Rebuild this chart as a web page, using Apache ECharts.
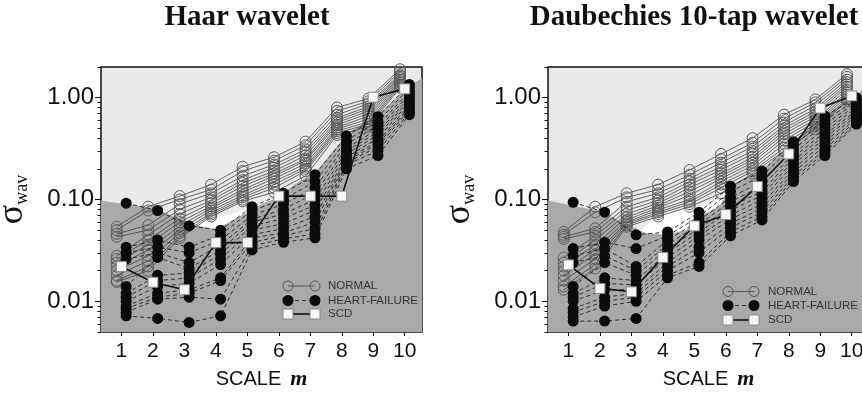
<!DOCTYPE html>
<html>
<head>
<meta charset="utf-8">
<script src="https://cdn.jsdelivr.net/npm/echarts@6/dist/echarts.min.js"></script>
<style>
html,body{margin:0;padding:0;background:#fff;}
#c{width:862px;height:395px;}
</style>
</head>
<body>
<div id="c"></div>
<script>
// ---------- data ----------
const scales = [1, 2, 3, 4, 5, 6, 7, 8, 9, 10];
const yMajorTicks = [0.01, 0.1, 1];
const yMinorTicks = [0.005, 0.006, 0.007, 0.008, 0.009, 0.02, 0.03, 0.04, 0.05, 0.06, 0.07, 0.08, 0.09,
  0.2, 0.3, 0.4, 0.5, 0.6, 0.7, 0.8, 0.9, 2];
const panelTitles = ['Haar wavelet', 'Daubechies 10-tap wavelet'];
const legendNames = ['NORMAL', 'HEART-FAILURE', 'SCD'];

// values per scale m (each inner list: one value per subject, ranked)
const haarNormal = [
  [0.054, 0.050, 0.046, 0.043, 0.028, 0.026, 0.024, 0.022, 0.020, 0.018, 0.016, 0.0155],
  [0.085, 0.078, 0.056, 0.050, 0.045, 0.040, 0.036, 0.032, 0.028, 0.025, 0.022, 0.020],
  [0.108, 0.100, 0.090, 0.080, 0.072, 0.065, 0.060, 0.055, 0.051, 0.047, 0.044, 0.042],
  [0.140, 0.125, 0.115, 0.105, 0.098, 0.092, 0.086, 0.082, 0.078, 0.074, 0.071, 0.068],
  [0.210, 0.190, 0.170, 0.155, 0.145, 0.135, 0.125, 0.118, 0.110, 0.105, 0.100, 0.096],
  [0.260, 0.240, 0.220, 0.205, 0.190, 0.180, 0.170, 0.160, 0.150, 0.140, 0.130, 0.118],
  [0.370, 0.340, 0.310, 0.290, 0.270, 0.250, 0.240, 0.225, 0.210, 0.200, 0.190, 0.170],
  [0.800, 0.740, 0.680, 0.630, 0.600, 0.570, 0.540, 0.510, 0.490, 0.470, 0.450, 0.430],
  [0.980, 0.920, 0.870, 0.820, 0.780, 0.740, 0.700, 0.660, 0.620, 0.580, 0.550, 0.520],
  [1.90, 1.80, 1.70, 1.65, 1.60, 1.55, 1.50, 1.45, 1.40, 1.35, 1.30, 1.25]
];
const haarHF = [
  [0.092, 0.034, 0.030, 0.026, 0.014, 0.012, 0.011, 0.010, 0.0090, 0.0085, 0.0078, 0.0072],
  [0.078, 0.040, 0.034, 0.030, 0.027, 0.018, 0.016, 0.014, 0.012, 0.011, 0.0105, 0.0068],
  [0.055, 0.034, 0.030, 0.024, 0.021, 0.019, 0.017, 0.015, 0.013, 0.012, 0.011, 0.0062],
  [0.050, 0.045, 0.040, 0.036, 0.032, 0.029, 0.026, 0.023, 0.017, 0.016, 0.0105, 0.0072],
  [0.085, 0.078, 0.070, 0.064, 0.060, 0.055, 0.050, 0.045, 0.042, 0.038, 0.035, 0.032],
  [0.115, 0.100, 0.090, 0.080, 0.072, 0.065, 0.058, 0.052, 0.047, 0.044, 0.041, 0.038],
  [0.175, 0.150, 0.130, 0.115, 0.100, 0.088, 0.078, 0.068, 0.060, 0.052, 0.046, 0.042],
  [0.420, 0.380, 0.350, 0.320, 0.300, 0.280, 0.260, 0.250, 0.240, 0.230, 0.220, 0.200],
  [0.650, 0.580, 0.530, 0.490, 0.460, 0.430, 0.400, 0.370, 0.350, 0.330, 0.300, 0.270],
  [1.35, 1.25, 1.15, 1.08, 1.00, 0.95, 0.90, 0.85, 0.80, 0.76, 0.72, 0.68]
];
const haarSCD = [0.022, 0.0154, 0.013, 0.0377, 0.0377, 0.108, 0.108, 0.108, 1.01, 1.22];

const daubNormal = [
  [0.048, 0.045, 0.043, 0.041, 0.027, 0.024, 0.022, 0.020, 0.018, 0.016, 0.014, 0.013],
  [0.085, 0.075, 0.052, 0.048, 0.044, 0.040, 0.036, 0.032, 0.029, 0.026, 0.023, 0.021],
  [0.115, 0.105, 0.095, 0.085, 0.078, 0.072, 0.067, 0.063, 0.060, 0.058, 0.056, 0.054],
  [0.140, 0.125, 0.115, 0.105, 0.098, 0.092, 0.087, 0.083, 0.079, 0.075, 0.072, 0.068],
  [0.195, 0.175, 0.160, 0.150, 0.140, 0.130, 0.120, 0.110, 0.100, 0.095, 0.090, 0.085],
  [0.280, 0.250, 0.230, 0.210, 0.195, 0.180, 0.170, 0.160, 0.150, 0.140, 0.130, 0.115],
  [0.400, 0.360, 0.330, 0.300, 0.280, 0.260, 0.245, 0.230, 0.215, 0.200, 0.190, 0.180],
  [0.680, 0.620, 0.570, 0.530, 0.500, 0.470, 0.440, 0.410, 0.380, 0.350, 0.320, 0.300],
  [0.960, 0.900, 0.840, 0.780, 0.730, 0.690, 0.650, 0.610, 0.580, 0.550, 0.520, 0.490],
  [1.70, 1.60, 1.50, 1.42, 1.35, 1.28, 1.20, 1.13, 1.07, 1.02, 0.97, 0.93]
];
const daubHF = [
  [0.094, 0.033, 0.028, 0.024, 0.014, 0.012, 0.011, 0.010, 0.0085, 0.0078, 0.0070, 0.0064],
  [0.075, 0.038, 0.033, 0.028, 0.024, 0.017, 0.015, 0.013, 0.011, 0.010, 0.0090, 0.0064],
  [0.045, 0.033, 0.022, 0.020, 0.018, 0.016, 0.0145, 0.013, 0.012, 0.011, 0.010, 0.0068],
  [0.048, 0.044, 0.040, 0.036, 0.033, 0.030, 0.027, 0.024, 0.022, 0.020, 0.018, 0.017],
  [0.075, 0.068, 0.062, 0.057, 0.052, 0.048, 0.044, 0.040, 0.034, 0.030, 0.024, 0.022],
  [0.135, 0.120, 0.105, 0.095, 0.085, 0.078, 0.070, 0.064, 0.058, 0.053, 0.048, 0.044],
  [0.190, 0.170, 0.150, 0.135, 0.120, 0.110, 0.100, 0.090, 0.082, 0.075, 0.068, 0.063],
  [0.370, 0.340, 0.310, 0.280, 0.260, 0.240, 0.220, 0.200, 0.185, 0.170, 0.160, 0.150],
  [0.660, 0.600, 0.550, 0.500, 0.460, 0.430, 0.400, 0.370, 0.340, 0.310, 0.290, 0.270],
  [1.00, 0.95, 0.90, 0.85, 0.80, 0.75, 0.71, 0.67, 0.63, 0.60, 0.57, 0.55]
];
const daubSCD = [0.0228, 0.0134, 0.0124, 0.027, 0.055, 0.071, 0.134, 0.28, 0.79, 1.04];

// shaded background regions: [m, sigma] outline points
const haarHFRegion = [[0.35, 0.097], [2.0, 0.083], [3.35, 0.056], [4.0, 0.051], [4.9, 0.072], [5.5, 0.092],
  [6.0, 0.105], [6.5, 0.14], [7.2, 0.19], [8.2, 0.45], [9.2, 0.7], [10.2, 1.35], [10.55, 1.55]];
const haarGap = [[3.0, 0.05], [3.35, 0.059], [4.0, 0.066], [4.5, 0.072], [5.0, 0.082], [5.5, 0.095], [6.0, 0.1], [6.2, 0.09]];
const daubHFRegion = [[0.35, 0.098], [1.95, 0.077], [3.45, 0.047], [4.1, 0.045], [4.73, 0.05], [5.15, 0.068],
  [5.8, 0.086], [6.2, 0.14], [7.2, 0.2], [8.2, 0.38], [9.2, 0.68], [10.2, 1.1], [10.55, 1.3]];
const daubGap = [[3.2, 0.045], [3.45, 0.055], [4.1, 0.074], [5.15, 0.085], [5.8, 0.1], [6.0, 0.1], [6.2, 0.09]];

// ---------- chart ----------
const chart = echarts.init(document.getElementById('c'), null, {renderer: 'canvas'});
const SANS = 'Liberation Sans, Arial, Helvetica, sans-serif';
const SERIF = 'Liberation Serif, Times New Roman, serif';

const grids = [
  {left: 101, top: 67, width: 321, height: 265},
  {left: 548, top: 67, width: 321, height: 265}
];

const xAxes = [], yAxes = [], series = [];
const panels = [
  {normal: haarNormal, hf: haarHF, scd: haarSCD, region: haarHFRegion, gap: haarGap},
  {normal: daubNormal, hf: daubHF, scd: daubSCD, region: daubHFRegion, gap: daubGap}
];

panels.forEach((p, i) => {
  xAxes.push({
    type: 'value', gridIndex: i, min: 0.35, max: 10.55,
    axisLine: {show: false},
    splitLine: {show: false},
    axisTick: {show: true, inside: false, length: 4, customValues: scales, lineStyle: {color: '#111', width: 1}},
    axisLabel: {customValues: scales, color: '#111', fontSize: 21, fontFamily: SANS, margin: 9},
    name: '{a|SCALE}{sp| }{b|m}', nameLocation: 'middle', nameGap: 36,
    nameTextStyle: {rich: {
      a: {fontSize: 20, fontFamily: SANS, color: '#111'},
      sp: {fontSize: 20, fontFamily: SANS, width: 9},
      b: {fontSize: 22, fontFamily: SERIF, fontWeight: 'bold', fontStyle: 'italic', color: '#111'}
    }}
  });
  yAxes.push({
    type: 'log', logBase: 10, gridIndex: i, min: 0.005, max: 2.0,
    axisLine: {show: false},
    splitLine: {show: false},
    axisTick: {show: true, inside: false, length: 6, customValues: yMajorTicks, lineStyle: {color: '#111', width: 1}},
    axisLabel: {customValues: yMajorTicks, color: '#111', fontSize: 24, fontFamily: SANS, margin: 7,
      formatter: v => Number(v).toFixed(2)},
    name: '{s|σ}{w|wav}', nameLocation: 'middle', nameGap: 70, nameRotate: 90,
    nameTextStyle: {rich: {
      s: {fontSize: 36, fontFamily: SERIF, color: '#111', verticalAlign: 'bottom', lineHeight: 36},
      w: {fontSize: 18, fontFamily: SERIF, color: '#111', verticalAlign: 'bottom', lineHeight: 17}
    }}
  });
  yAxes.push({
    type: 'log', logBase: 10, gridIndex: i, min: 0.005, max: 2.0, position: 'left',
    axisLine: {show: false}, splitLine: {show: false},
    axisLabel: {show: false},
    axisTick: {show: true, inside: false, length: 3.5, customValues: yMinorTicks, lineStyle: {color: '#111', width: 1}}
  });

  const yIdx = i * 2;
  series.push({
    type: 'line', xAxisIndex: i, yAxisIndex: yIdx, data: p.gap, symbol: 'none', silent: true,
    lineStyle: {width: 0}, areaStyle: {color: '#ffffff', opacity: 1, origin: 'start'}, z: 1, animation: false
  });
  series.push({
    type: 'line', xAxisIndex: i, yAxisIndex: yIdx, data: p.region, symbol: 'none', silent: true,
    lineStyle: {width: 0}, areaStyle: {color: '#a9a9a9', opacity: 1, origin: 'start'}, z: 1, animation: false
  });

  const nSub = p.normal[0].length;
  for (let s = 0; s < nSub; s++) {
    series.push({
      type: 'line', xAxisIndex: i, yAxisIndex: yIdx, z: 3,
      data: scales.map((m, j) => [m - 0.15, p.normal[j][s]]),
      symbol: 'circle', symbolSize: 11, showAllSymbol: true,
      itemStyle: {color: 'rgba(0,0,0,0)', borderColor: '#5a5a5a', borderWidth: 1},
      lineStyle: {color: '#3c3c3c', width: 0.8}
    });
  }
  const nHF = p.hf[0].length;
  for (let s = 0; s < nHF; s++) {
    series.push({
      type: 'line', xAxisIndex: i, yAxisIndex: yIdx, z: 4,
      data: scales.map((m, j) => [m + 0.15, p.hf[j][s]]),
      symbol: 'circle', symbolSize: 11, showAllSymbol: true,
      itemStyle: {color: '#0b0b0b', borderWidth: 0},
      lineStyle: {color: '#1c1c1c', width: 0.9, type: [4, 3]}
    });
  }
  series.push({
    type: 'line', xAxisIndex: i, yAxisIndex: yIdx, z: 5,
    data: scales.map((m, j) => [m, p.scd[j]]),
    symbol: 'rect', symbolSize: 10, showAllSymbol: true,
    itemStyle: {color: '#f6f6f6', borderColor: '#8a8a8a', borderWidth: 1},
    lineStyle: {color: '#111', width: 1.6}
  });
});

// legend drawn as graphics
function legend(x1, x2, xt, ys) {
  const g = [];
  g.push({type: 'line', shape: {x1: x1, y1: ys[0], x2: x2, y2: ys[0]}, style: {stroke: '#444', lineWidth: 0.8}, z: 10});
  [x1, x2].forEach(x => g.push({type: 'circle', shape: {cx: x, cy: ys[0], r: 5}, style: {fill: 'none', stroke: '#555', lineWidth: 1}, z: 10}));
  g.push({type: 'line', shape: {x1: x1, y1: ys[1], x2: x2, y2: ys[1]}, style: {stroke: '#222', lineWidth: 0.9, lineDash: [4, 3]}, z: 10});
  [x1, x2].forEach(x => g.push({type: 'circle', shape: {cx: x, cy: ys[1], r: 5.5}, style: {fill: '#0b0b0b'}, z: 10}));
  g.push({type: 'line', shape: {x1: x1, y1: ys[2], x2: x2, y2: ys[2]}, style: {stroke: '#111', lineWidth: 1.6}, z: 10});
  [x1, x2].forEach(x => g.push({type: 'rect', shape: {x: x - 5, y: ys[2] - 5, width: 10, height: 10}, style: {fill: '#f6f6f6', stroke: '#8a8a8a', lineWidth: 1}, z: 10}));
  legendNames.forEach((t, k) => g.push({type: 'text', x: xt, y: ys[k], style: {text: t, fill: '#333', font: '11.5px ' + SANS, verticalAlign: 'middle'}, z: 10}));
  return g;
}

const titleStyle = {fontFamily: SERIF, fontWeight: 'bold', fontSize: 29, color: '#111'};
const option = {
  backgroundColor: '#ffffff',
  animation: false,
  title: [
    {text: panelTitles[0], left: 247, top: 3, padding: 0, textAlign: 'center', textStyle: titleStyle},
    {text: panelTitles[1], left: 694, top: 3, padding: 0, textAlign: 'center', textStyle: titleStyle}
  ],
  grid: grids.map(g => Object.assign({show: true, backgroundColor: '#eaeaea', borderColor: '#111', borderWidth: 1.5,
    containLabel: false, outerBoundsMode: 'none'}, g)),
  xAxis: xAxes,
  yAxis: yAxes,
  series: series,
  graphic: [].concat(legend(288, 315, 328, [286, 300.5, 314]), legend(728, 754, 768, [291.5, 305.5, 320]))
};
chart.setOption(option);
</script>
</body>
</html>
